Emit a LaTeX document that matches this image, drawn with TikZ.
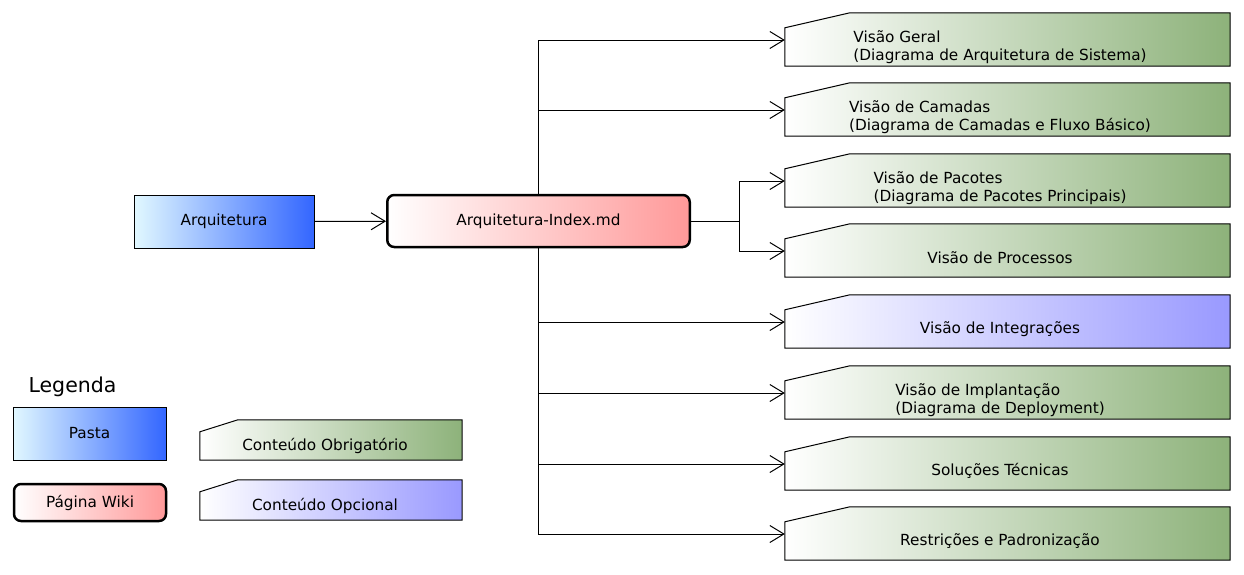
\documentclass[tikz,border=0pt]{standalone}
\usepackage{fontspec}
\setmainfont{DejaVu Sans}
\usetikzlibrary{arrows.meta,backgrounds,positioning}

\definecolor{cianoPasta}{RGB}{225,248,255}
\definecolor{azulPasta}{RGB}{51,102,255}
\definecolor{rosaWiki}{RGB}{255,153,153}
\definecolor{verdeObrig}{RGB}{141,178,122}
\definecolor{lilasOpc}{RGB}{153,153,255}

\tikzset{
  pasta/.style={draw=black, line width=1pt, left color=cianoPasta, right color=azulPasta,
    inner sep=0pt, font=\fontsize{15.3}{18}\selectfont},
  wiki/.style={draw=black, line width=2.5pt, rounded corners=7pt, left color=white,
    right color=rosaWiki, inner sep=0pt, font=\fontsize{15.3}{18}\selectfont},
  conteudo/.style={inner sep=0pt, align=left, font=\fontsize{15.3}{18}\selectfont},
  seta/.style={-{Straight Barb[length=14pt,width=17pt]}, line width=1pt},
  liga/.style={line width=1pt},
}

% caixa com canto cortado: nome, cor, dx, dy, sobra a direita
\newcommand{\caixa}[5]{%
  \shade[draw=black, line width=1pt, left color=white, right color=#2]
    (#1.south west) -- (#1.north west) -- ([shift={(#3pt,#4pt)}]#1.north west)
    -- ([shift={(#5pt,#4pt)}]#1.north east) -- ([xshift=#5pt]#1.south east) -- cycle;}

\begin{document}
\begin{tikzpicture}[x=1pt, y=-1pt]
  \useasboundingbox (0,0) rectangle (1244,574);

  \node[pasta, minimum width=180, minimum height=53] (arq) at (224,221.5) {Arquitetura};
  \node[wiki, minimum width=302.5, minimum height=52] (idx) at (538.5,221) {Arquitetura-Index.md};

  % conteudos
  \foreach \i/\ytopo/\cor/\texto in {
      1/13/verdeObrig/{Visão Geral\\(Diagrama de Arquitetura de Sistema)},
      2/83/verdeObrig/{Visão de Camadas\\(Diagrama de Camadas e Fluxo Básico)},
      3/154/verdeObrig/{Visão de Pacotes\\(Diagrama de Pacotes Principais)},
      4/224/verdeObrig/{Visão de Processos},
      5/295/lilasOpc/{Visão de Integrações},
      6/366/verdeObrig/{Visão de Implantação\\(Diagrama de Deployment)},
      7/437/verdeObrig/{Soluções Técnicas},
      8/507/verdeObrig/{Restrições e Padronização}}
  {
    \node[conteudo, minimum width=430, minimum height=38] (v\i) at (1000,{\ytopo+34}) {\texto};
    \coordinate (v\i-in) at ([yshift=7pt]v\i.west);
    \begin{scope}[on background layer]
      \caixa{v\i}{\cor}{65}{15}{15}
    \end{scope}
  }

  \draw[seta] (arq) -- (idx);
  \draw[seta] (idx.north) |- (v1-in);
  \draw[seta] (idx.north) |- (v2-in);
  \coordinate (junta) at ([xshift=48pt]idx.east);
  \draw[liga] (idx.east) -- (junta);
  \draw[seta] (junta) |- (v3-in);
  \draw[seta] (junta) |- (v4-in);
  \foreach \i in {5,6,7,8}
    \draw[seta] (idx.south) |- (v\i-in);

  % legenda
  \node[font=\fontsize{20.5}{24}\selectfont] (leg) at (72.5,387) {Legenda};
  \node[pasta, minimum width=153, minimum height=53] (legPasta) at (89.5,433.5) {Pasta};
  \node[wiki, minimum width=152, minimum height=37] (legWiki) at (90,502.5) {Página Wiki};
  \node[conteudo, minimum width=250, minimum height=28] (legObrig) at (325,446) {Conteúdo Obrigatório};
  \node[conteudo, minimum width=250, minimum height=28] (legOpc) at (325,506) {Conteúdo Opcional};
  \begin{scope}[on background layer]
    \caixa{legObrig}{verdeObrig}{38}{12}{12}
    \caixa{legOpc}{lilasOpc}{38}{12}{12}
  \end{scope}
\end{tikzpicture}
\end{document}
